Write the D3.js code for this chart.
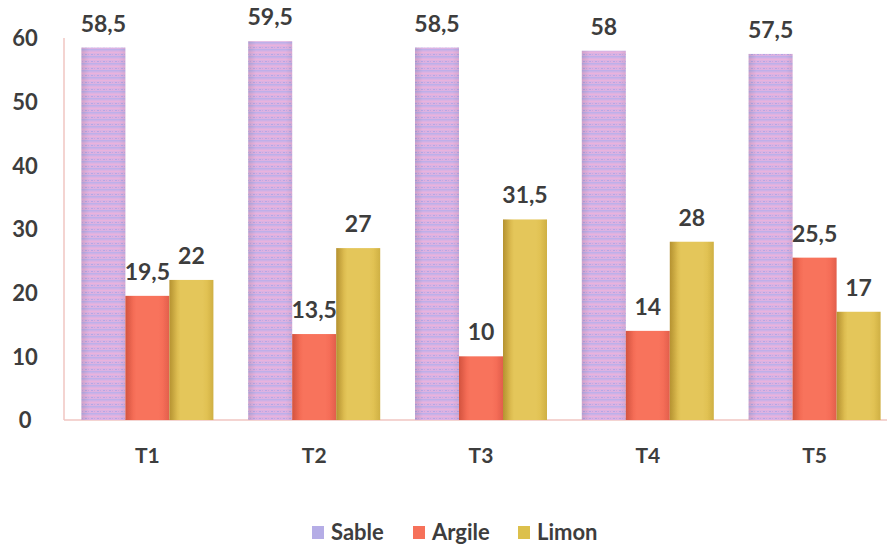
<!DOCTYPE html>
<html>
<head>
<meta charset="utf-8">
<script src="https://cdn.jsdelivr.net/npm/d3@7"></script>
<style>
  html, body { margin: 0; padding: 0; background: #ffffff; }
  svg { display: block; }
  text { font-family: Lato, "Open Sans", sans-serif; font-weight: 700; fill: #3d3d3d; }
</style>
</head>
<body>
<svg id="chart" width="887" height="546"></svg>
<script>
// Soil texture per treatment (%)
const categories = ["T1", "T2", "T3", "T4", "T5"];
const seriesNames = ["Sable", "Argile", "Limon"];
const sable  = [58.5, 59.5, 58.5, 58, 57.5];
const argile = [19.5, 13.5, 10, 14, 25.5];
const limon  = [22, 27, 31.5, 28, 17];
const yTicks = [0, 10, 20, 30, 40, 50, 60];

const values = [sable, argile, limon];
const fmt = v => String(v).replace(".", ",");

const svg = d3.select("#chart");
const defs = svg.append("defs");

// Striped pink/lavender fill for Sable
const pat = defs.append("pattern")
  .attr("id", "sableFill").attr("patternUnits", "userSpaceOnUse")
  .attr("width", 6).attr("height", 7);
pat.append("rect").attr("width", 6).attr("height", 7).attr("fill", "#dcb2e2");
pat.append("rect").attr("y", 0).attr("width", 6).attr("height", 1.5).attr("fill", "#bdb0ea");
pat.append("rect").attr("y", 3).attr("width", 6).attr("height", 1).attr("fill", "#eab2dc");
pat.append("rect").attr("x", 1).attr("y", 5).attr("width", 2).attr("height", 1).attr("fill", "#b6a6e4");
pat.append("rect").attr("x", 4).attr("y", 5).attr("width", 1).attr("height", 1).attr("fill", "#c8a6e0");

function shade(id, edge, mid, edge2) {
  const g = defs.append("linearGradient").attr("id", id)
    .attr("x1", "0").attr("x2", "1").attr("y1", "0").attr("y2", "0");
  g.append("stop").attr("offset", "0%").attr("stop-color", edge);
  g.append("stop").attr("offset", "25%").attr("stop-color", mid);
  g.append("stop").attr("offset", "75%").attr("stop-color", mid);
  g.append("stop").attr("offset", "100%").attr("stop-color", edge2);
}
shade("argileFill", "#ea5c46", "#f8735c", "#f06450");
shade("limonFill", "#c9a236", "#e4c65a", "#dcbb48");

// Soft side shading laid over every bar
const ov = defs.append("linearGradient").attr("id", "sideShade")
  .attr("x1", "0").attr("x2", "1").attr("y1", "0").attr("y2", "0");
ov.append("stop").attr("offset", "0%").attr("stop-color", "#000").attr("stop-opacity", 0.1);
ov.append("stop").attr("offset", "18%").attr("stop-color", "#000").attr("stop-opacity", 0);
ov.append("stop").attr("offset", "85%").attr("stop-color", "#000").attr("stop-opacity", 0);
ov.append("stop").attr("offset", "100%").attr("stop-color", "#000").attr("stop-opacity", 0.06);

const fills = ["url(#sableFill)", "url(#argileFill)", "url(#limonFill)"];
const swatch = ["#b5ade6", "#f6715a", "#dcc04c"];

const x0 = d3.scaleBand().domain(categories).range([64, 898]).paddingInner(0).paddingOuter(0);
const x1 = d3.scaleBand().domain(seriesNames).range([0, 132]).padding(0);
const groupOffset = (x0.bandwidth() - 132) / 2;
const y = d3.scaleLinear().domain([0, 60]).range([420, 38]);

// Axis lines
svg.append("line").attr("x1", 64).attr("x2", 64).attr("y1", y(60)).attr("y2", y(0))
  .attr("stroke", "#f0c6c2").attr("stroke-width", 1.5);
svg.append("line").attr("x1", 64).attr("x2", 887).attr("y1", y(0)).attr("y2", y(0))
  .attr("stroke", "#f0c6c2").attr("stroke-width", 1.5);

// Y tick labels
const yAxis = d3.axisLeft(y).tickValues(yTicks).tickSize(0).tickPadding(0);
const ya = svg.append("g").attr("transform", "translate(25,0)").call(yAxis);
ya.select(".domain").remove();
ya.selectAll("text").attr("text-anchor", "middle").attr("dy", "0.36em")
  .style("font-size", "22px").style("fill", "#3d3d3d");

// X category labels
const xAxis = d3.axisBottom(x0).tickSize(0).tickPadding(0);
const xa = svg.append("g").attr("transform", "translate(0,448)").call(xAxis);
xa.select(".domain").remove();
xa.selectAll("text").style("font-size", "21px").style("fill", "#3d3d3d");

// Bars and value labels
seriesNames.forEach((s, si) => {
  const g = svg.append("g");
  const bx = c => x0(c) + groupOffset + x1(s);
  g.selectAll("rect.bar").data(categories).join("rect").attr("class", "bar")
    .attr("x", c => bx(c)).attr("width", x1.bandwidth())
    .attr("y", (c, i) => y(values[si][i]))
    .attr("height", (c, i) => y(0) - y(values[si][i]))
    .attr("fill", fills[si]);
  g.selectAll("rect.shade").data(categories).join("rect").attr("class", "shade")
    .attr("x", c => bx(c)).attr("width", x1.bandwidth())
    .attr("y", (c, i) => y(values[si][i]))
    .attr("height", (c, i) => y(0) - y(values[si][i]))
    .attr("fill", "url(#sideShade)");
  g.selectAll("text").data(categories).join("text")
    .attr("x", c => bx(c) + x1.bandwidth() / 2)
    .attr("y", (c, i) => y(values[si][i]) - 16)
    .attr("text-anchor", "middle")
    .style("font-size", "23px").style("fill", "#3d3d3d")
    .text((c, i) => fmt(values[si][i]));
});

// Legend
const legendX = [312, 413, 518];
const lg = svg.append("g");
seriesNames.forEach((s, i) => {
  lg.append("rect").attr("x", legendX[i]).attr("y", 526).attr("width", 12).attr("height", 13)
    .attr("fill", swatch[i]);
  lg.append("text").attr("x", legendX[i] + 19).attr("y", 540)
    .style("font-size", "22px").style("fill", "#3d3d3d").text(s);
});
</script>
</body>
</html>
